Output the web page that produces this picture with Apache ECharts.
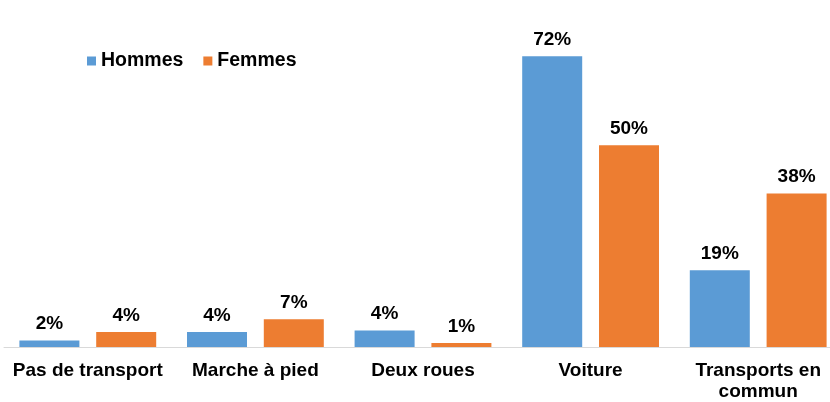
<!DOCTYPE html>
<html>
<head>
<meta charset="utf-8">
<script src="https://cdn.jsdelivr.net/npm/echarts@6/dist/echarts.min.js"></script>
<style>
  html, body { margin: 0; padding: 0; background: #fff; overflow: hidden; }
  #chart { width: 850px; height: 402px; }
</style>
</head>
<body>
<div id="chart"></div>
<script>
const categories = ['Pas de transport', 'Marche à pied', 'Deux roues', 'Voiture', 'Transports en\ncommun'];
const hommes = [1.6, 3.7, 4.1, 72, 19];
const femmes = [3.7, 6.9, 1.0, 50, 38];

const chart = echarts.init(document.getElementById('chart'));
// étiquettes au-dessus des barres
const labelStyle = {
  show: true,
  position: 'top',
  distance: 7,
  fontWeight: 'bold',
  fontSize: 19,
  color: '#000',
  formatter: p => Math.round(p.value) + '%'
};
const option = {
  animation: false,
  textStyle: { fontFamily: 'Liberation Sans, Arial, sans-serif' },
  legend: {
    left: 82,
    top: 46,
    itemWidth: 9,
    itemHeight: 9,
    itemGap: 20,
    icon: 'rect',
    textStyle: { fontSize: 19.5, fontWeight: 'bold', color: '#000' },
    data: ['Hommes', 'Femmes']
  },
  grid: { left: 4, width: 838, top: 24, bottom: 52 },
  xAxis: {
    type: 'category',
    data: categories,
    axisLine: { lineStyle: { color: '#d9d9d9', width: 1 } },
    axisTick: { show: false },
    axisLabel: { fontSize: 19, fontWeight: 'bold', color: '#000', margin: 13, lineHeight: 21, interval: 0 }
  },
  yAxis: {
    type: 'value',
    min: 0,
    max: 80,
    show: false,
    splitLine: { show: false }
  },
  series: [
    { name: 'Hommes', type: 'bar', data: hommes, barWidth: 60, barGap: '28%', itemStyle: { color: '#5b9bd5' }, label: labelStyle },
    { name: 'Femmes', type: 'bar', data: femmes, barWidth: 60, barGap: '28%', itemStyle: { color: '#ed7d31' }, label: labelStyle }
  ]
};
chart.setOption(option);
</script>
</body>
</html>
